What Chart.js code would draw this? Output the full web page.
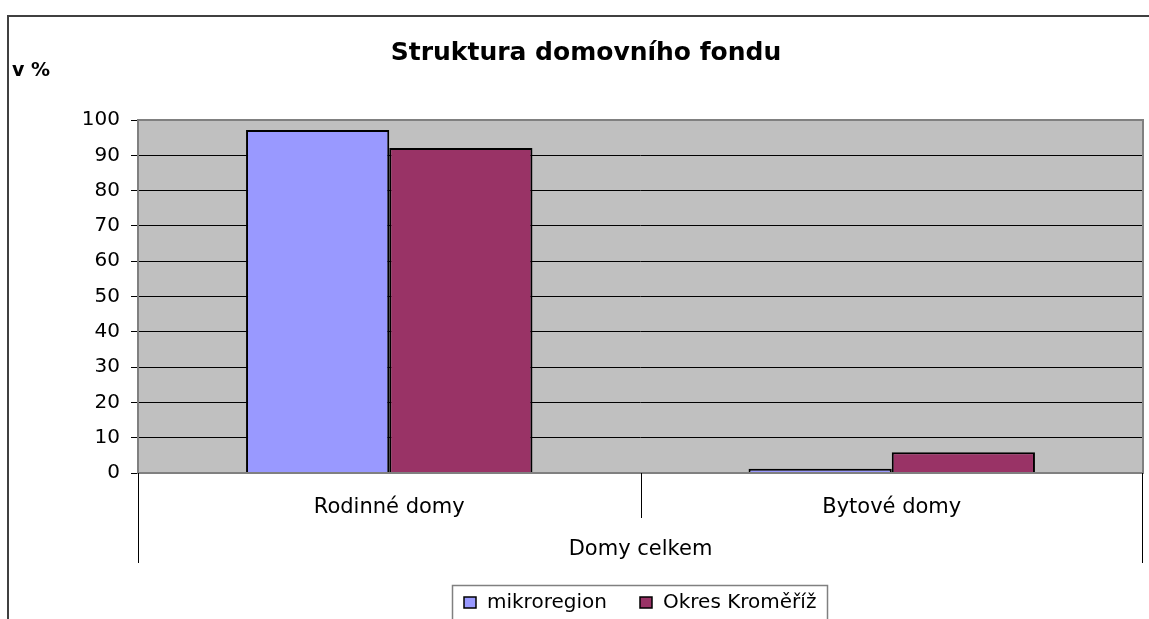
<!DOCTYPE html>
<html>
<head>
<meta charset="utf-8">
<script src="https://cdn.jsdelivr.net/npm/chart.js@4"></script>
<style>
    body { margin: 0; background: #fff; }
    #wrap { width: 1149px; height: 619px; }
</style>
</head>
<body>
<div id="wrap"><canvas id="domyChart" width="1149" height="619"></canvas></div>
<script>
const categories = ['Rodinné domy', 'Bytové domy'];
const groupLabel = 'Domy celkem';
const mikroregion = [97.2, 1.2];
const okresKromeriz = [92.1, 5.9];
const seriesNames = ['mikroregion', 'Okres Kroměříž'];
const chartTitle = 'Struktura domovního fondu';
const axisTitle = 'v %';

const FONT = '"DejaVu Sans", sans-serif';

// background, borders, group label, title and legend drawn around the chart area
const decorations = {
    id: 'decorations',
    beforeDraw(chart) {
        const ctx = chart.ctx;
        const area = chart.chartArea;
        ctx.save();
        ctx.fillStyle = '#C0C0C0';
        ctx.fillRect(area.left, area.top, area.right - area.left, area.bottom - area.top);
        ctx.restore();
    },
    afterDraw(chart) {
        const ctx = chart.ctx;
        const area = chart.chartArea;
        const x = chart.scales.x;
        ctx.save();

        // plot border
        ctx.strokeStyle = '#808080';
        ctx.lineWidth = 2;
        ctx.strokeRect(area.left, area.top, area.right - area.left, area.bottom - area.top);

        // category separators under the axis
        const mid = (x.getPixelForValue(0) + x.getPixelForValue(1)) / 2;
        ctx.strokeStyle = '#000';
        ctx.lineWidth = 1;
        ctx.beginPath();
        ctx.moveTo(Math.round(area.left) + 0.5, area.bottom);
        ctx.lineTo(Math.round(area.left) + 0.5, area.bottom + 90);
        ctx.moveTo(Math.round(area.right) - 0.5, area.bottom);
        ctx.lineTo(Math.round(area.right) - 0.5, area.bottom + 90);
        ctx.moveTo(Math.round(mid) + 0.5, area.bottom);
        ctx.lineTo(Math.round(mid) + 0.5, area.bottom + 45);
        ctx.stroke();

        // group label
        ctx.fillStyle = '#000';
        ctx.font = '21px ' + FONT;
        ctx.textAlign = 'center';
        ctx.textBaseline = 'alphabetic';
        ctx.fillText(groupLabel, (area.left + area.right) / 2, 555);

        // title and axis title
        ctx.font = 'bold 25px ' + FONT;
        ctx.fillText(chartTitle, 586, 60);
        ctx.font = 'bold 19px ' + FONT;
        ctx.textAlign = 'left';
        ctx.fillText(axisTitle, 12, 76);

        // outer frame
        ctx.strokeStyle = '#404040';
        ctx.lineWidth = 2;
        ctx.beginPath();
        ctx.moveTo(8, 619);
        ctx.lineTo(8, 16);
        ctx.lineTo(1149, 16);
        ctx.stroke();

        // legend
        ctx.strokeStyle = '#808080';
        ctx.lineWidth = 1.5;
        ctx.strokeRect(452.5, 585.5, 375, 40);
        const items = [{ sq: 464, tx: 487 }, { sq: 640, tx: 663 }];
        ctx.font = '20px ' + FONT;
        chart.data.datasets.forEach((ds, i) => {
            ctx.fillStyle = ds.backgroundColor;
            ctx.fillRect(items[i].sq, 597, 12, 11);
            ctx.strokeStyle = '#000';
            ctx.lineWidth = 1.5;
            ctx.strokeRect(items[i].sq, 597, 12, 11);
            ctx.fillStyle = '#000';
            ctx.fillText(ds.label, items[i].tx, 608);
        });

        ctx.restore();
    }
};

const ctx = document.getElementById('domyChart').getContext('2d');
const chart = new Chart(ctx, {
    type: 'bar',
    data: {
        labels: categories,
        datasets: [{
            label: seriesNames[0],
            data: mikroregion,
            backgroundColor: '#9999FF',
            borderColor: '#000',
            borderWidth: 2
        }, {
            label: seriesNames[1],
            data: okresKromeriz,
            backgroundColor: '#993366',
            borderColor: '#000',
            borderWidth: 2
        }]
    },
    options: {
        responsive: false,
        devicePixelRatio: 1,
        animation: false,
        categoryPercentage: 0.57,
        barPercentage: 1.0,
        layout: {
            padding: { left: 0, right: 6, top: 120, bottom: 0 }
        },
        plugins: {
            legend: { display: false },
            title: { display: false },
            tooltip: { enabled: false }
        },
        scales: {
            x: {
                grid: { display: false },
                border: { display: false },
                ticks: {
                    color: '#000',
                    font: { family: FONT, size: 21 },
                    padding: 14,
                    maxRotation: 0
                },
                afterFit: function (scale) {
                    scale.height = 146;
                }
            },
            y: {
                min: 0,
                max: 100,
                ticks: {
                    stepSize: 10,
                    color: '#000',
                    font: { family: FONT, size: 20 },
                    padding: 11
                },
                grid: {
                    color: function (context) {
                        const v = context.tick ? context.tick.value : null;
                        return (v === 0 || v === 100) ? '#808080' : '#000';
                    },
                    tickColor: '#000',
                    tickLength: 7,
                    lineWidth: 1
                },
                border: { display: false },
                afterFit: function (scale) {
                    scale.width = 138;
                }
            }
        }
    },
    plugins: [decorations]
});
</script>
</body>
</html>
